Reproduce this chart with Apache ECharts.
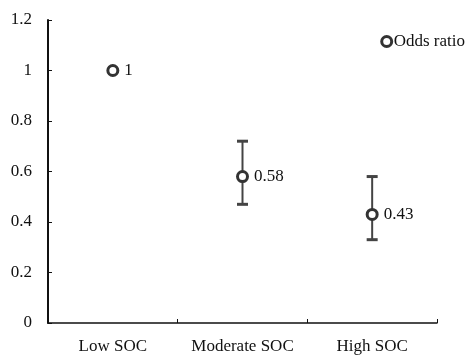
<!DOCTYPE html>
<html>
<head>
<meta charset="utf-8">
<script src="https://cdn.jsdelivr.net/npm/echarts@6/dist/echarts.min.js"></script>
<style>
  html, body { margin: 0; padding: 0; background: #fff; }
  #chart { width: 470px; height: 355px; }
</style>
</head>
<body>
<div id="chart"></div>
<script>
const categories = ['Low SOC', 'Moderate SOC', 'High SOC']
const oddsRatio = [1, 0.58, 0.43]
const ciLower = [null, 0.47, 0.33]
const ciUpper = [null, 0.72, 0.58]
const yTicks = [0, 0.2, 0.4, 0.6, 0.8, 1, 1.2]

const font = 'Liberation Serif, Times New Roman, serif'
const ink = '#333'
const fs = 17

const chart = echarts.init(document.getElementById('chart'))

// error bar rows: [category index, low, high]
const errData = []
categories.forEach((c, i) => {
  if (ciLower[i] != null) errData.push([i, ciLower[i], ciUpper[i]])
})

chart.setOption({
  animation: false,
  textStyle: { fontFamily: font },
  legend: {
    data: [{ name: 'Odds ratio', icon: 'circle' }],
    right: 0,
    top: 28,
    itemWidth: 10,
    itemHeight: 10,
    itemGap: 0,
    textStyle: { fontFamily: font, fontSize: fs, color: '#111', padding: [0, 0, 0, -3] },
    itemStyle: { color: '#fff', borderColor: ink, borderWidth: 3 }
  },
  grid: { left: 48, right: 33, top: 20, bottom: 31 },
  xAxis: {
    type: 'category',
    data: categories,
    boundaryGap: true,
    axisLine: { lineStyle: { color: '#111', width: 1.5 } },
    axisTick: { show: true, inside: true, length: 4, lineStyle: { color: '#111' } },
    axisLabel: { color: '#111', fontSize: fs, fontFamily: font, margin: 15, interval: 0, hideOverlap: false }
  },
  yAxis: {
    type: 'value',
    min: 0,
    max: 1.2,
    interval: 0.2,
    splitLine: { show: false },
    axisLine: { show: true, lineStyle: { color: '#111', width: 2 } },
    axisTick: { show: true, inside: true, length: 4, lineStyle: { color: '#111' } },
    axisLabel: {
      color: '#111', fontSize: fs, fontFamily: font, margin: 16,
      formatter: v => {
        const t = yTicks.find(k => Math.abs(k - v) < 1e-6)
        return t === undefined ? '' : String(t)
      }
    }
  },
  series: [
    {
      name: 'CI',
      type: 'custom',
      z: 1,
      data: errData,
      renderItem: (params, api) => {
        const x = api.value(0)
        const lo = api.coord([x, api.value(1)])
        const hi = api.coord([x, api.value(2)])
        const cap = 5.5
        const capStyle = { stroke: '#444', lineWidth: 3 }
        return {
          type: 'group',
          children: [
            { type: 'line', shape: { x1: lo[0], y1: lo[1], x2: hi[0], y2: hi[1] }, style: { stroke: '#444', lineWidth: 2 } },
            { type: 'line', shape: { x1: lo[0] - cap, y1: lo[1], x2: lo[0] + cap, y2: lo[1] }, style: capStyle },
            { type: 'line', shape: { x1: hi[0] - cap, y1: hi[1], x2: hi[0] + cap, y2: hi[1] }, style: capStyle }
          ]
        }
      }
    },
    {
      name: 'Odds ratio',
      type: 'scatter',
      z: 2,
      data: oddsRatio,
      symbol: 'circle',
      symbolSize: 10,
      itemStyle: { color: '#fff', borderColor: ink, borderWidth: 3, opacity: 1 },
      label: {
        show: true,
        position: 'right',
        distance: 5,
        color: '#111',
        fontSize: fs,
        fontFamily: font,
        formatter: p => String(p.value)
      }
    }
  ]
})
</script>
</body>
</html>
